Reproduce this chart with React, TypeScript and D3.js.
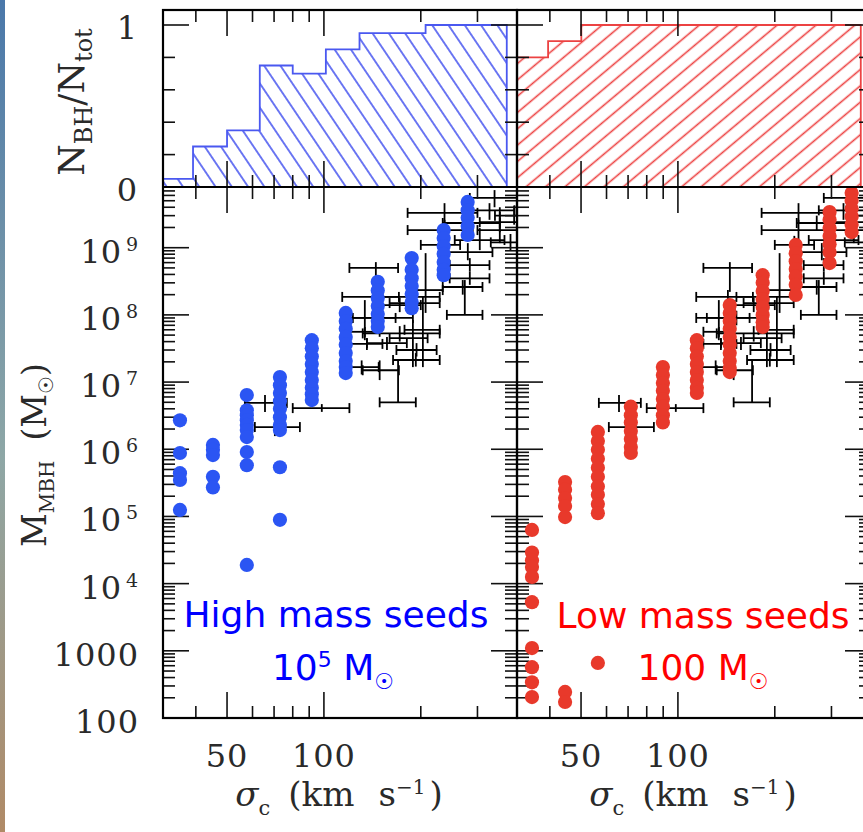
import React from "react";
import * as d3 from "d3";

// ---------------- data ----------------
const sigmaDomain = [31.62, 398.1]; // km/s
const massDomain = [100, 1e9];
const xTickValues = [40, 50, 60, 70, 80, 90, 100, 200, 300];
const xMajorTicks = [50, 100];
const xTickLabels = ["50", "100"];
const histTickValues = [0.2, 0.4, 0.6, 0.8, 1];
const histTickLabels = ["0", "1"];
const massExponents = [2, 3, 4, 5, 6, 7, 8, 9];
const massTickLabels = ["100", "1000", "10|4", "10|5", "10|6", "10|7", "10|8", "10|9"];

// N_BH / N_tot histograms (bin edges in km/s, fraction per bin)
const blueHistEdges = [31.6, 39.2, 50, 63.2, 80, 101.4, 129, 207, 370];
const blueHistFrac = [0.05, 0.25, 0.35, 0.75, 0.7, 0.85, 0.95, 1.0];
const redHistEdges = [31.6, 39.5, 50.1, 370];
const redHistFrac = [0.8, 0.9, 1.0];

// High mass seeds (blue) model BHs: sigma of each column and masses
const blueColSigma = [35.7, 45.2, 57.6, 73.0, 91.7, 116.9, 147.0, 187.4, 235.6, 279.7];
const blueColMass = [
  [2.7e6, 8.8e5, 4.4e5, 3.5e5, 1.25e5],
  [1.16e6, 9.8e5, 8.2e5, 3.9e5, 2.7e5],
  [6.4e6, 3.8e6, 3.2e6, 2.7e6, 2.3e6, 1.93e6, 1.52e6, 9.1e5, 5.8e5, 1.9e4],
  [1.19e7, 9.0e6, 6.9e6, 5.2e6, 4.0e6, 3.0e6, 2.3e6, 1.93e6, 5.4e5, 8.9e4],
  [4.2e7, 3.2e7, 2.4e7, 1.86e7, 1.41e7, 1.07e7, 8.2e6, 6.6e6, 5.4e6],
  [1.07e8, 8.1e7, 6.2e7, 4.7e7, 3.6e7, 2.7e7, 2.06e7, 1.67e7, 1.36e7],
  [3.1e8, 2.3e8, 1.78e8, 1.36e8, 1.03e8, 8.1e7, 6.6e7],
  [7.0e8, 4.7e8, 3.5e8, 2.7e8, 2.04e8, 1.55e8, 1.26e8],
  [1.83e9, 1.39e9, 1.06e9, 8.1e8, 6.1e8, 4.7e8, 3.9e8],
  [4.8e9, 3.6e9, 2.8e9, 2.1e9, 1.55e9],
];

// Low mass seeds (red) model BHs
const redColSigma = [35.2, 44.6, 56.4, 71.4, 89.8, 114.5, 144.9, 183.4, 232.3, 296.0, 346.6];
const redColMass = [
  [6.3e4, 2.9e4, 2.2e4, 1.77e4, 1.26e4, 5.3e3, 1.1e3, 570, 340, 205],
  [3.25e5, 2.5e5, 1.88e5, 1.43e5, 9.8e4, 244, 173],
  [1.81e6, 1.33e6, 9.8e5, 7.2e5, 5.3e5, 3.9e5, 2.8e5, 2.1e5, 1.53e5, 1.12e5, 660],
  [4.3e6, 3.2e6, 2.5e6, 1.87e6, 1.42e6, 1.08e6, 8.8e5],
  [1.67e7, 1.27e7, 9.7e6, 7.4e6, 5.6e6, 4.3e6, 3.2e6, 2.5e6],
  [4.2e7, 3.2e7, 2.4e7, 1.86e7, 1.41e7, 1.07e7, 8.2e6, 6.9e6],
  [1.4e8, 1.07e8, 8.1e7, 6.2e7, 4.7e7, 3.6e7, 2.7e7, 2.06e7, 1.62e7, 1.41e7],
  [3.9e8, 3.0e8, 2.26e8, 1.72e8, 1.31e8, 1.0e8, 7.8e7, 6.6e7],
  [1.1e9, 8.3e8, 6.3e8, 4.8e8, 3.7e8, 2.8e8, 1.98e8],
  [3.4e9, 2.6e9, 1.96e9, 1.49e9, 1.13e9, 8.6e8, 5.9e8],
  [6.5e9, 5.0e9, 3.8e9, 2.9e9, 2.2e9, 1.71e9],
];

// observed galaxies (black error bars)
const obsSigma = [237, 237, 339, 327, 352, 305, 145, 143, 134, 134, 136, 149, 170, 98.5, 65.6, 70.4, 274, 207, 187, 191, 172, 203, 157, 194, 193, 189, 280, 284, 284, 270, 352, 270, 152, 131, 230, 390, 380, 172];
const obsSigmaLo = [182, 182, 284, 274, 305, 255, 120, 114, 114, 120, 120, 132, 149, 80, 56.8, 61, 241, 187, 152, 160, 132, 178, 136, 168, 164, 160, 234, 246, 246, 234, 300, 234, 123, 119, 200, 340, 330, 150];
const obsSigmaHi = [300, 290, 420, 391, 420, 364, 170, 171, 167, 149, 152, 171, 193, 120, 76.7, 84.2, 311, 234, 229, 229, 229, 229, 181, 224, 229, 210, 334, 327, 327, 311, 420, 352, 189, 148, 265, 440, 430, 200];
const obsMass = [3.3e9, 1.83e9, 5.5e9, 3.6e9, 2.4e9, 1.3e9, 5.0e8, 1.85e8, 9.0e7, 5.6e7, 3.7e7, 1.5e7, 5.0e6, 4.1e6, 4.9e6, 2.14e6, 1.0e8, 2.34e8, 1.85e8, 1.5e8, 5.3e7, 6.0e7, 3.8e7, 3.0e7, 2.13e7, 4.5e7, 8.6e8, 5.5e8, 3.5e8, 2.6e8, 1.83e9, 2.33e9, 9.0e7, 1.67e7, 1.1e9, 3.0e9, 1.2e9, 1.4e8];
const obsMassLo = [2.4e9, 1.3e9, 4.0e9, 2.6e9, 1.7e9, 9.2e8, 2.2e8, 1.4e8, 4.2e7, 4.7e7, 3.0e7, 1.07e7, 5.0e6, 3.6e6, 3.6e6, 1.57e6, 1.0e8, 1.07e8, 1.5e8, 1.2e8, 4.0e7, 1.67e7, 3.0e7, 2.4e7, 1.7e7, 1.67e7, 6.5e8, 4.4e8, 2.8e8, 2.0e8, 1.17e9, 1.8e9, 7.0e7, 1.3e7, 8.0e8, 2.2e9, 9.0e8, 1.1e8];
const obsMassHi = [4.6e9, 2.6e9, 7.2e9, 4.6e9, 3.4e9, 1.96e9, 6.1e8, 2.34e8, 1.66e8, 6.6e7, 4.5e7, 2.1e7, 2.13e7, 4.7e6, 6.4e6, 2.9e6, 3.3e8, 8.3e8, 2.3e8, 1.85e8, 6.8e7, 1.85e8, 4.7e7, 3.8e7, 2.7e7, 8.4e7, 1.17e9, 7.0e8, 4.4e8, 3.3e8, 4.0e9, 3.0e9, 1.15e8, 2.1e7, 1.5e9, 4.2e9, 1.6e9, 1.8e8];

// ---------------- layout / style ----------------
const TOP = 10;
const MID = 187;
const BOTTOM = 718;
const PANEL_W = 354;
const PANEL_X = [163, 517];
const SERIF = "'DejaVu Serif', serif";
const SANS = "'DejaVu Sans', Verdana, sans-serif";
const BLUE_DOT = "#2b55f3";
const RED_DOT = "#e8392b";
const BLUE_HIST = "#4a58f0";
const RED_HIST = "#ec4242";
const TEXT = "#2a2a2a";
const MAJ = 26;
const MIN = 12;

export default function App() {
  const x = d3.scaleLog().domain(sigmaDomain).range([0, PANEL_W]);
  const yS = d3.scaleLog().domain(massDomain).range([718, 247.7]);
  const yH = d3.scaleLinear().domain([0, 1]).range([MID, 25]);

  const massTicks: { v: number; major: boolean }[] = [];
  massExponents.forEach((e) => {
    massTicks.push({ v: Math.pow(10, e), major: true });
    for (let k = 2; k <= 9; k++) {
      const v = k * Math.pow(10, e);
      if (yS(v) > MID + 1) massTicks.push({ v, major: false });
    }
  });

  const histPath = (edges: number[], frac: number[], x0: number) => {
    let d = `M${x0 + x(edges[0])},${yH(0)}`;
    frac.forEach((f, i) => {
      d += `L${x0 + x(edges[i])},${yH(f)}L${x0 + x(edges[i + 1])},${yH(f)}`;
    });
    d += `L${x0 + x(edges[edges.length - 1])},${yH(0)}Z`;
    return d;
  };

  const renderErrorBars = (x0: number) =>
    obsSigma.map((s, i) => {
      const cx = x0 + x(s);
      const cy = yS(obsMass[i]);
      const xl = x0 + x(obsSigmaLo[i]);
      const xr = x0 + x(obsSigmaHi[i]);
      return (
        <g key={i}>
          <line x1={xl} x2={xr} y1={cy} y2={cy} />
          <line x1={xl} x2={xl} y1={cy - 5} y2={cy + 5} />
          <line x1={xr} x2={xr} y1={cy - 5} y2={cy + 5} />
          <line x1={cx} x2={cx} y1={yS(obsMassLo[i])} y2={yS(obsMassHi[i])} />
        </g>
      );
    });

  const renderDots = (x0: number, sig: number[], mass: number[][], color: string) =>
    sig.map((s, i) =>
      mass[i].map((m, j) => (
        <circle key={`${i}-${j}`} cx={x0 + x(s)} cy={yS(m)} r={7.1} fill={color} />
      ))
    );

  const renderTicks = (x0: number) => {
    const els: JSX.Element[] = [];
    xTickValues.forEach((v, i) => {
      const px = x0 + x(v);
      const len = xMajorTicks.includes(v) ? MAJ : MIN;
      els.push(<line key={`t${i}`} x1={px} x2={px} y1={TOP} y2={TOP + len} />);
      els.push(<line key={`hm${i}`} x1={px} x2={px} y1={MID} y2={MID - len} />);
      els.push(<line key={`sm${i}`} x1={px} x2={px} y1={MID} y2={MID + len} />);
      els.push(<line key={`b${i}`} x1={px} x2={px} y1={BOTTOM} y2={BOTTOM - len} />);
    });
    histTickValues.forEach((v, i) => {
      const py = yH(v);
      const len = v === 1 ? MAJ : MIN;
      els.push(<line key={`hl${i}`} x1={x0} x2={x0 + len} y1={py} y2={py} />);
      els.push(<line key={`hr${i}`} x1={x0 + PANEL_W} x2={x0 + PANEL_W - len} y1={py} y2={py} />);
    });
    massTicks.forEach((t, i) => {
      const py = yS(t.v);
      const len = t.major ? MAJ : MIN;
      els.push(<line key={`ml${i}`} x1={x0} x2={x0 + len} y1={py} y2={py} />);
      els.push(<line key={`mr${i}`} x1={x0 + PANEL_W} x2={x0 + PANEL_W - len} y1={py} y2={py} />);
    });
    return els;
  };

  return (
    <svg
      width={863}
      height={832}
      style={{ position: "absolute", left: 0, top: 0, background: "#fff" }}
    >
      <defs>
        <linearGradient id="edge" x1="0" y1="0" x2="0" y2="1">
          <stop offset="0" stopColor="#4a78aa" />
          <stop offset="0.55" stopColor="#8ea7a6" />
          <stop offset="1" stopColor="#b08a66" />
        </linearGradient>
        <pattern id="hatchBlue" patternUnits="userSpaceOnUse" width={13.5} height={13.5} patternTransform="rotate(-34)">
          <line x1={6.75} x2={6.75} y1={0} y2={13.5} stroke={BLUE_HIST} strokeWidth={1.6} />
        </pattern>
        <pattern id="hatchRed" patternUnits="userSpaceOnUse" width={12.5} height={12.5} patternTransform="rotate(50)">
          <line x1={6.25} x2={6.25} y1={0} y2={12.5} stroke={RED_HIST} strokeWidth={1.6} />
        </pattern>
        {PANEL_X.map((x0, i) => (
          <clipPath id={`clipS${i}`} key={`cs${i}`}>
            <rect x={x0} y={MID} width={PANEL_W} height={BOTTOM - MID} />
          </clipPath>
        ))}
        {PANEL_X.map((x0, i) => (
          <clipPath id={`clipH${i}`} key={`ch${i}`}>
            <rect x={x0} y={TOP} width={PANEL_W} height={MID - TOP} />
          </clipPath>
        ))}
      </defs>
      <rect x={0} y={0} width={863} height={832} fill="#fff" />
      <rect x={0} y={0} width={5} height={832} fill="url(#edge)" />

      {/* histograms */}
      <g clipPath="url(#clipH0)">
        <path d={histPath(blueHistEdges, blueHistFrac, PANEL_X[0])} fill="url(#hatchBlue)" stroke={BLUE_HIST} strokeWidth={1.8} />
      </g>
      <g clipPath="url(#clipH1)">
        <path d={histPath(redHistEdges, redHistFrac, PANEL_X[1])} fill="url(#hatchRed)" stroke={RED_HIST} strokeWidth={1.8} />
      </g>

      {/* observed error bars */}
      {PANEL_X.map((x0, i) => (
        <g key={`eb${i}`} clipPath={`url(#clipS${i})`} stroke="#000" strokeWidth={1.8}>
          {renderErrorBars(x0)}
        </g>
      ))}

      {/* ticks */}
      <g stroke="#111" strokeWidth={1.6}>
        {PANEL_X.map((x0) => renderTicks(x0))}
      </g>

      {/* model points */}
      <g clipPath="url(#clipS0)">{renderDots(PANEL_X[0], blueColSigma, blueColMass, BLUE_DOT)}</g>
      <g clipPath="url(#clipS1)">{renderDots(PANEL_X[1], redColSigma, redColMass, RED_DOT)}</g>

      {/* frames */}
      <g fill="none" stroke="#000" strokeWidth={2.2}>
        {PANEL_X.map((x0, i) => (
          <g key={`f${i}`}>
            <rect x={x0} y={TOP} width={PANEL_W} height={BOTTOM - TOP} />
            <line x1={x0} x2={x0 + PANEL_W} y1={MID} y2={MID} />
          </g>
        ))}
      </g>

      {/* y tick labels */}
      <g fontFamily={SERIF} fill={TEXT}>
        {histTickLabels.map((l, i) => (
          <text key={`hl${i}`} x={137} y={yH(i) + 14} fontSize={32} textAnchor="end">
            {l}
          </text>
        ))}
        {massExponents.map((e, i) => {
          const lab = massTickLabels[i];
          const py = yS(Math.pow(10, e));
          if (lab.includes("|")) {
            const [b, p] = lab.split("|");
            return (
              <g key={`ml${i}`}>
                <text x={121} y={py + 15} fontSize={32} textAnchor="end">{b}</text>
                <text x={126} y={py + 3} fontSize={19}>{p}</text>
              </g>
            );
          }
          return (
            <text key={`ml${i}`} x={139} y={py + 15} fontSize={32} textAnchor="end" letterSpacing={1}>
              {lab}
            </text>
          );
        })}
      </g>

      {/* x tick labels + titles */}
      <g fontFamily={SERIF} fill={TEXT}>
        {PANEL_X.map((x0, pi) => (
          <g key={`xl${pi}`}>
            {xMajorTicks.map((v, i) => (
              <text key={i} x={x0 + x(v)} y={767} fontSize={32} textAnchor="middle" letterSpacing={1}>
                {xTickLabels[i]}
              </text>
            ))}
            <text x={x0 + PANEL_W / 2 - 1} y={806} fontSize={34} textAnchor="middle">
              <tspan fontStyle="italic">σ</tspan>
              <tspan fontSize={21} dy={9}>c</tspan>
              <tspan dy={-9} dx={18}>(km</tspan>
              <tspan dx={24}>s</tspan>
              <tspan fontSize={20} dy={-12}>−1</tspan>
              <tspan dy={12} dx={4}>)</tspan>
            </text>
          </g>
        ))}
      </g>

      {/* y titles */}
      <g fontFamily={SERIF} fill={TEXT}>
        <text transform="translate(84,102) rotate(-90)" fontSize={36} textAnchor="middle">
          N<tspan fontSize={24} dy={8}>BH</tspan>
          <tspan dy={-8}>/N</tspan>
          <tspan fontSize={24} dy={8}>tot</tspan>
        </text>
        <text transform="translate(46,455) rotate(-90)" fontSize={33} textAnchor="middle">
          M<tspan fontSize={20} dy={8}>MBH</tspan>
          <tspan dy={-8} dx={20}>(M</tspan>
          <tspan fontSize={20} dy={7}>☉</tspan>
          <tspan dy={-7}>)</tspan>
        </text>
      </g>

      {/* annotations */}
      <g fontFamily={SANS}>
        <text x={336} y={627} fontSize={36} fill="#0000ff" textAnchor="middle">
          High mass seeds
        </text>
        <text x={333} y={680} fontSize={36} fill="#0000ff" textAnchor="middle">
          10<tspan fontSize={22} dy={-13}>5</tspan>
          <tspan dy={13}> M</tspan>
          <tspan fontSize={22} dy={9}>☉</tspan>
        </text>
        <text x={703} y={628} fontSize={36} fill="#ff0000" textAnchor="middle">
          Low mass seeds
        </text>
        <text x={703} y={680} fontSize={36} fill="#ff0000" textAnchor="middle">
          100 M<tspan fontSize={22} dy={9}>☉</tspan>
        </text>
      </g>
    </svg>
  );
}
